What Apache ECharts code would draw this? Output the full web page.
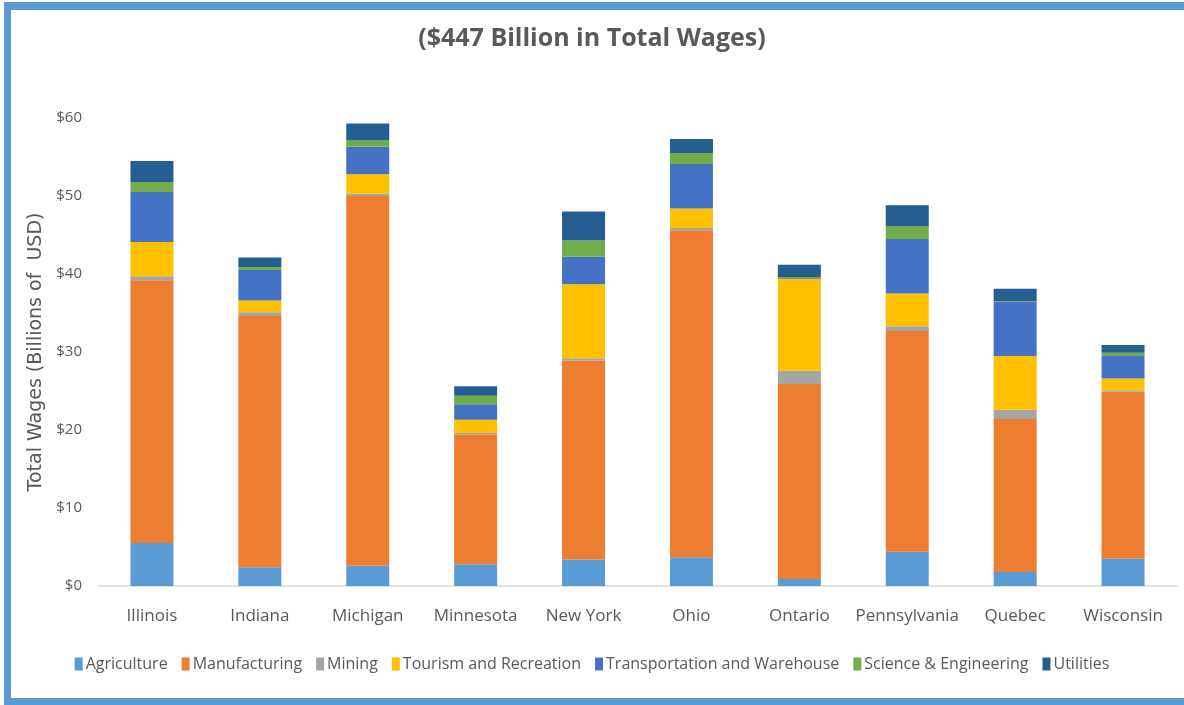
<!DOCTYPE html>
<html>
<head>
<meta charset="utf-8">
<script src="https://cdn.jsdelivr.net/npm/echarts@6/dist/echarts.min.js"></script>
<style>
  html, body { margin: 0; padding: 0; background: #fff; overflow: hidden; }
  #chart { width: 1184px; height: 705px; }
</style>
</head>
<body>
<div id="chart"></div>
<script>
// states / provinces
const regions = ['Illinois', 'Indiana', 'Michigan', 'Minnesota', 'New York', 'Ohio', 'Ontario', 'Pennsylvania', 'Quebec', 'Wisconsin'];

// wages by sector, billions of USD
const agriculture    = [5.5, 2.4, 2.6, 2.8, 3.4, 3.7, 0.9, 4.4, 1.8, 3.5];
const manufacturing  = [33.7, 32.2, 47.4, 16.6, 25.5, 41.9, 25.0, 28.3, 19.6, 21.4];
const mining         = [0.5, 0.5, 0.3, 0.2, 0.3, 0.3, 1.7, 0.6, 1.2, 0.2];
const tourism        = [4.4, 1.5, 2.5, 1.7, 9.5, 2.5, 11.8, 4.2, 6.9, 1.5];
const transportation = [6.4, 3.9, 3.5, 2.0, 3.5, 5.7, 0.1, 7.0, 6.9, 2.9];
const science        = [1.3, 0.4, 0.8, 1.1, 2.1, 1.4, 0.1, 1.6, 0.1, 0.4];
const utilities      = [2.7, 1.2, 2.2, 1.2, 3.7, 1.8, 1.6, 2.7, 1.6, 1.0];

const yTicks = [0, 10, 20, 30, 40, 50, 60];

const font = '"Open Sans", sans-serif';
const frameColor = '#5b9bd5';

const sectors = [
  ['Agriculture', agriculture, '#5b9bd5'],
  ['Manufacturing', manufacturing, '#ed7d31'],
  ['Mining', mining, '#a5a5a5'],
  ['Tourism and Recreation', tourism, '#ffc000'],
  ['Transportation and Warehouse', transportation, '#4472c4'],
  ['Science & Engineering', science, '#70ad47'],
  ['Utilities', utilities, '#255e91']
];

const chart = echarts.init(document.getElementById('chart'));
chart.setOption({
  animation: false,
  // blue frame: left, top and bottom edges
  graphic: [
    { type: 'rect', left: 4, top: 2, shape: { width: 7, height: 703 }, style: { fill: frameColor }, silent: true },
    { type: 'rect', left: 4, top: 2, shape: { width: 1180, height: 8 }, style: { fill: frameColor }, silent: true },
    { type: 'rect', left: 4, top: 698, shape: { width: 1180, height: 7 }, style: { fill: frameColor }, silent: true }
  ],
  title: {
    text: '($447 Billion in Total Wages)',
    left: 'center',
    top: 21,
    textStyle: { fontFamily: font, fontSize: 25, fontWeight: 'bold', color: '#595959' }
  },
  legend: {
    bottom: 28,
    left: 'center',
    itemWidth: 8,
    itemHeight: 13,
    itemGap: 14,
    icon: 'rect',
    textStyle: { fontFamily: font, fontSize: 16, color: '#595959', padding: [0, 0, 0, -2] },
    data: sectors.map(s => s[0])
  },
  grid: { left: 98, right: 7, top: 118, bottom: 119 },
  xAxis: {
    type: 'category',
    data: regions,
    axisLine: { lineStyle: { color: '#d9d9d9', width: 1.5 } },
    axisTick: { show: false },
    axisLabel: { interval: 0, fontFamily: font, fontSize: 17, color: '#595959', margin: 22 }
  },
  yAxis: {
    type: 'value',
    min: yTicks[0],
    max: yTicks[yTicks.length - 1],
    interval: 10,
    name: 'Total Wages (Billions of  USD)',
    nameLocation: 'middle',
    nameGap: 50,
    nameTextStyle: { fontFamily: '"DejaVu Sans", sans-serif', fontSize: 19, color: '#595959' },
    splitLine: { show: false },
    axisLine: { show: false },
    axisTick: { show: false },
    axisLabel: { fontFamily: font, fontSize: 15, color: '#595959', margin: 16, formatter: v => '$' + v }
  },
  series: sectors.map(s => ({
    name: s[0],
    type: 'bar',
    stack: 'wages',
    barWidth: 43,
    data: s[1],
    itemStyle: { color: s[2] }
  }))
});
</script>
</body>
</html>
